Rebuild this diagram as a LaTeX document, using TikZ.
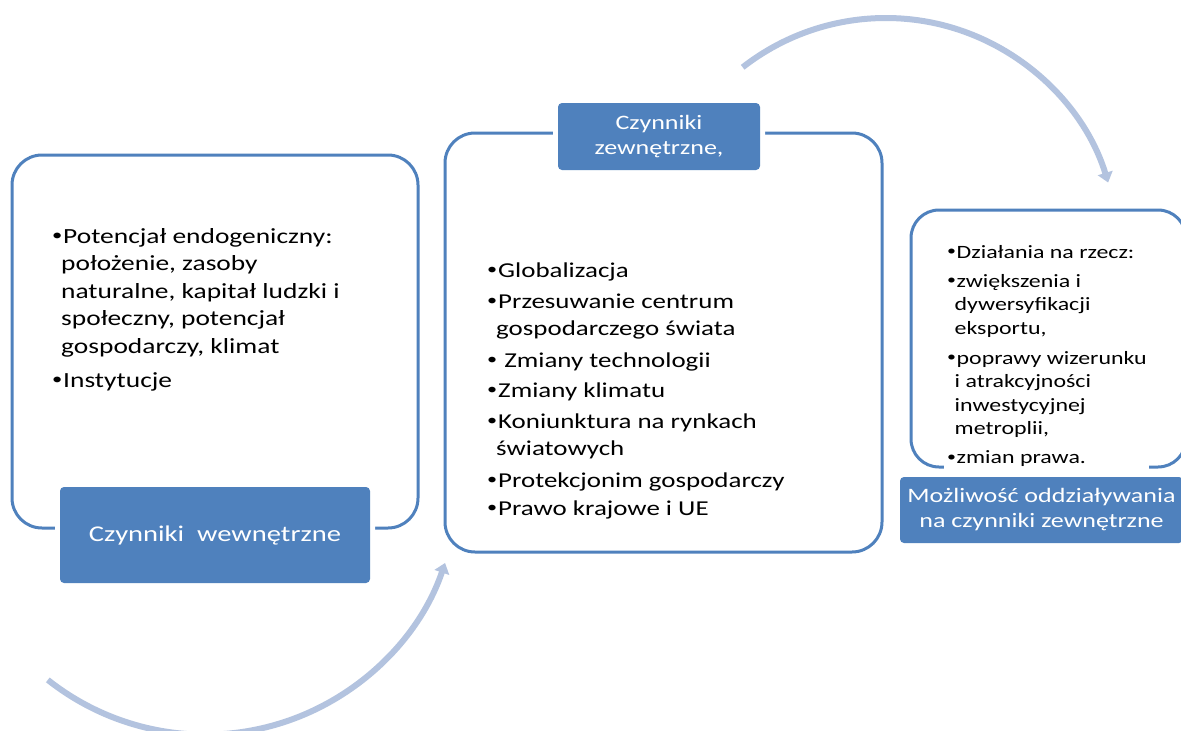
\documentclass[tikz,border=0pt]{standalone}
\usepackage{fontspec}
\setmainfont{Carlito}[FakeStretch=1.27]
\usetikzlibrary{arrows.meta,calc}
\definecolor{accent}{RGB}{79,129,189}
\definecolor{arrowc}{RGB}{179,195,223}
\newlength{\bw}
\newcommand{\bl}{\makebox[\bw][l]{\hspace*{1pt}\raisebox{0.12em}{\scalebox{0.75}{•}}}}
\newcommand{\ind}{\hspace*{\dimexpr\bw-2pt\relax}}
\tikzset{
  frame/.style={draw=accent, line width=3pt, rounded corners=30pt, inner sep=0pt, fill=none},
  tag/.style={fill=accent, rounded corners=4pt, text=white, align=center, inner sep=0pt,
    preaction={draw=white, line width=10pt}},
  listtext/.style={anchor=base west, inner sep=0pt, align=left},
  bigarrow/.style={draw=arrowc, line width=6pt, -{Triangle[width=15pt,length=10pt]}}
}
\begin{document}
\begin{tikzpicture}[x=1pt,y=-1pt]
\useasboundingbox (0,0) rectangle (1181,731);
\clip (0,0) rectangle (1181,731);
\fill[white] (0,0) rectangle (1181,731);

% frames
\node[frame, minimum width=406pt, minimum height=373pt] (leftbox) at (215,341.5) {};
\node[frame, minimum width=437pt, minimum height=419pt] (midbox) at (663.5,342.5) {};
\node[frame, rounded corners=28pt, minimum width=275pt, minimum height=257pt] (rightbox) at (1048.5,338.5) {};

% list texts
\node[listtext, font={\fontsize{21.6}{27.5}\selectfont\setlength{\bw}{12pt}}] (lefttext) at (51,243) {%
\begin{tabular}[t]{@{}l@{}}
\bl Potencjał endogeniczny:\\
\ind położenie, zasoby\\
\ind naturalne, kapitał ludzki i\\
\ind społeczny, potencjał\\
\ind gospodarczy, klimat\\[6.5pt]
\bl Instytucje
\end{tabular}};

\node[listtext, font={\fontsize{21.2}{27}\selectfont\setlength{\bw}{12pt}}] (midtext) at (486,277) {%
\begin{tabular}[t]{@{}l@{}}
\bl Globalizacja\\[4pt]
\bl Przesuwanie centrum\\
\ind gospodarczego świata\\[5pt]
\bl\ Zmiany technologii\\[3pt]
\bl Zmiany klimatu\\[4pt]
\bl Koniunktura na rynkach\\
\ind światowych\\[5pt]
\bl Protekcjonim gospodarczy\\[1pt]
\bl Prawo krajowe i UE
\end{tabular}};

\node[listtext, fill=white, inner sep=2pt, font={\fontsize{18.8}{23.5}\selectfont\setlength{\bw}{10.5pt}}] (righttext) at (944,258) {%
\begin{tabular}[t]{@{}l@{}}
\bl Działania na rzecz:\\[5.5pt]
\bl zwiększenia i\\
\ind dywersyfikacji\\
\ind eksportu,\\[6.5pt]
\bl poprawy wizerunku\\
\ind i atrakcyjności\\
\ind inwestycyjnej\\
\ind metroplii,\\[5.5pt]
\bl zmian prawa.
\end{tabular}};

% labels
\node[tag, minimum width=310pt, minimum height=96pt, font={\fontsize{22.5}{27.5}\selectfont}] (lefttag) at (215,535) {Czynniki\ \ wewnętrzne};
\node[tag, minimum width=202pt, minimum height=67pt, font={\fontsize{20.5}{25}\selectfont}] (midtag) at (659,136.5) {Czynniki\\zewnętrzne,};
\node[tag, minimum width=283pt, minimum height=66pt, font={\fontsize{20.5}{25}\selectfont}] (righttag) at (1041.5,510) {Możliwość oddziaływania\\na czynniki zewnętrzne};

% curved arrows
\coordinate (topc) at (885.8,250.5);
\coordinate (tops) at ($(topc)+(-128:232.5)$);
\coordinate (botc) at (205.2,481.3);
\coordinate (bots) at ($(botc)+(128.4:253.4)$);
\draw[bigarrow] (tops) arc[start angle=-128, end angle=-17, radius=232.5];
\draw[bigarrow] (bots) arc[start angle=128.4, end angle=18.8, radius=253.4];
\end{tikzpicture}
\end{document}
